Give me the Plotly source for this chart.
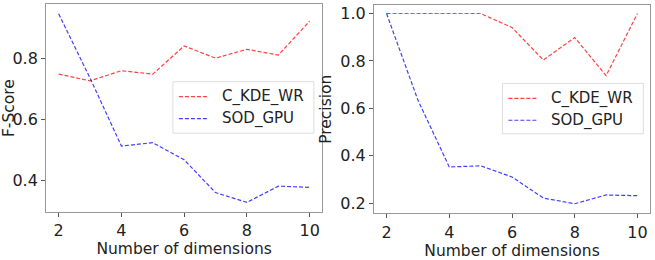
import plotly.graph_objects as go

dims = [2, 3, 4, 5, 6, 7, 8, 9, 10]
f_ckde = [0.748, 0.726, 0.759, 0.748, 0.840, 0.800, 0.829, 0.810, 0.921]
f_sod = [0.945, 0.735, 0.513, 0.524, 0.468, 0.361, 0.329, 0.382, 0.378]
p_ckde = [1.0, 1.0, 1.0, 1.0, 0.941, 0.804, 0.899, 0.738, 1.0]
p_sod = [1.0, 0.635, 0.353, 0.358, 0.311, 0.222, 0.198, 0.235, 0.232]

W, H = 655, 260
RED = "rgba(255,0,0,0.75)"
BLUE = "rgba(0,0,255,0.75)"
FONT = "DejaVu Sans"

fig = go.Figure()
for (x_ax, y_ax, ck, sd) in [("x", "y", f_ckde, f_sod), ("x2", "y2", p_ckde, p_sod)]:
    fig.add_trace(go.Scatter(x=dims, y=ck, mode="lines", name="C_KDE_WR",
                             line=dict(color=RED, width=1.2, dash="4px,2px"),
                             xaxis=x_ax, yaxis=y_ax, showlegend=False))
    fig.add_trace(go.Scatter(x=dims, y=sd, mode="lines", name="SOD_GPU",
                             line=dict(color=BLUE, width=1.2, dash="4px,2px"),
                             xaxis=x_ax, yaxis=y_ax, showlegend=False))

axis_common = dict(showline=True, mirror=True, linecolor="#999999", linewidth=1,
                   ticks="outside", ticklen=4, tickcolor="#555555", showgrid=False,
                   zeroline=False, tickfont=dict(size=16, color="#222222", family=FONT))

TF = 15.5
fig.update_layout(
    width=W, height=H, margin=dict(l=0, r=0, t=0, b=0),
    plot_bgcolor="white", paper_bgcolor="white",
    font=dict(family=FONT, color="#222222"),
    xaxis=dict(domain=[43.3 / W, 320.7 / W], range=[1.6, 10.4], tickvals=[2, 4, 6, 8, 10],
               title=dict(text="Number of dimensions", font=dict(size=TF), standoff=0), anchor="y", **axis_common),
    yaxis=dict(domain=[(H - 211.7) / H, (H - 3.3) / H], range=[0.298, 0.976], tickvals=[0.4, 0.6, 0.8],
               tickformat=".1f",
               title=dict(text="F-Score", font=dict(size=TF), standoff=2), anchor="x", **axis_common),
    xaxis2=dict(domain=[372.7 / W, 650 / W], range=[1.6, 10.4], tickvals=[2, 4, 6, 8, 10],
                title=dict(text="Number of dimensions", font=dict(size=TF), standoff=0), anchor="y2", **axis_common),
    yaxis2=dict(domain=[(H - 213.3) / H, (H - 4) / H], range=[0.157, 1.036], tickvals=[0.2, 0.4, 0.6, 0.8, 1.0],
                tickformat=".1f",
                title=dict(text="Precision", font=dict(size=TF), standoff=4), anchor="x2", **axis_common),
)

def legend(x0, y0, x1, y1):
    fig.add_shape(type="rect", xref="paper", yref="paper", x0=x0 / W, x1=x1 / W,
                  y0=1 - y1 / H, y1=1 - y0 / H, line=dict(color="#dddddd", width=1),
                  fillcolor="rgba(255,255,255,0.85)", layer="above")
    for i, (name, col) in enumerate([("C_KDE_WR", RED), ("SOD_GPU", BLUE)]):
        yy = y0 + 15 + i * 22
        fig.add_shape(type="line", xref="paper", yref="paper",
                      x0=(x0 + 6) / W, x1=(x0 + 36) / W, y0=1 - yy / H, y1=1 - yy / H,
                      line=dict(color=col, width=1.2, dash="4px,2px"), layer="above")
        fig.add_annotation(xref="paper", yref="paper", x=(x0 + 47) / W, y=1 - yy / H,
                           text=name, showarrow=False, xanchor="left", yanchor="middle",
                           font=dict(size=15, family=FONT, color="#222222"))

legend(170.7, 81, 312.3, 132.7)
legend(501.7, 82.7, 643.3, 133.3)

fig.write_html("out.html")
